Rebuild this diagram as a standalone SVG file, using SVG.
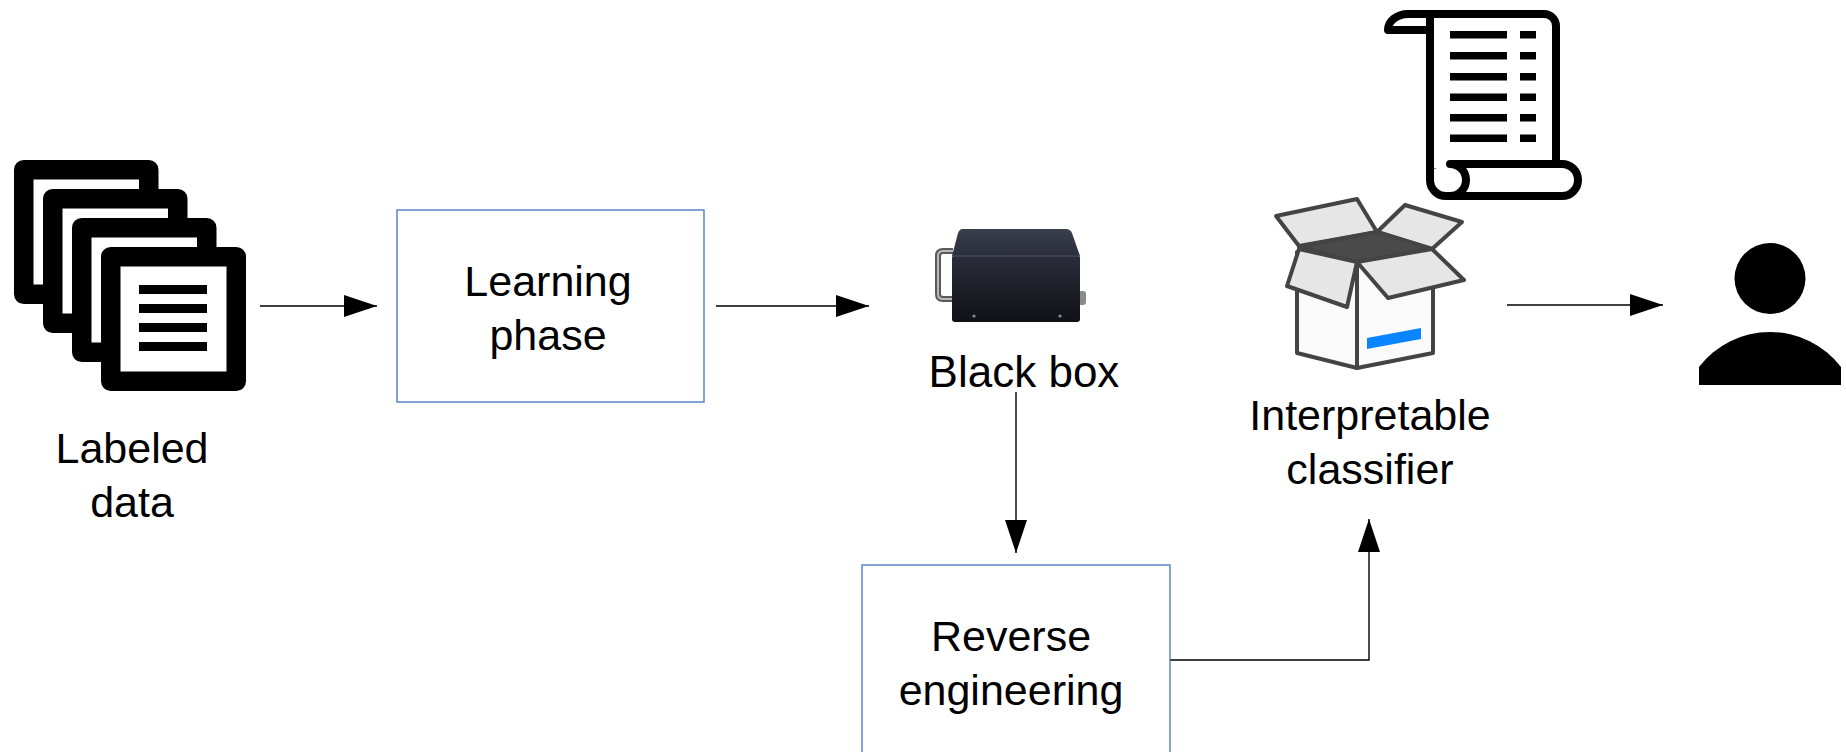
<svg xmlns="http://www.w3.org/2000/svg" width="1846" height="752" viewBox="0 0 1846 752">
  <style>
    .label { font-family: "Liberation Sans", Arial, sans-serif; font-size: 43px; fill: #000; text-anchor: middle; }
    .step { fill: #fff; stroke: #4472c4; stroke-width: 1.3; }
    .page { fill: #fff; stroke: #000; stroke-width: 19.5; stroke-linejoin: round; }
    .wire { fill: none; stroke: #000; stroke-width: 1.4; marker-end: url(#head); }
    .flap { fill: #e6e6e6; stroke: #444; stroke-width: 4; stroke-linejoin: round; }
    .face { fill: #fafafa; stroke: #444; stroke-width: 4; stroke-linejoin: round; }
    .scroll { fill: #fff; stroke: #000; stroke-width: 8; stroke-linejoin: round; }
  </style>
  <defs>
    <marker id="head" markerUnits="userSpaceOnUse" markerWidth="34" markerHeight="24" refX="33" refY="11" orient="auto">
      <path d="M0,0 L33,11 L0,22 Z" fill="#000"/>
    </marker>
    <linearGradient id="boxFront" x1="0" y1="0" x2="0" y2="1">
      <stop offset="0" stop-color="#2a2d3a"/>
      <stop offset="1" stop-color="#101116"/>
    </linearGradient>
    <linearGradient id="boxTop" x1="0" y1="0" x2="0" y2="1">
      <stop offset="0" stop-color="#3a3e4d"/>
      <stop offset="1" stop-color="#2b2e3a"/>
    </linearGradient>
  </defs>

  <rect width="1846" height="752" fill="#fff"/>

  <!-- connectors -->
  <g id="connectors">
    <path class="wire" d="M260,306 H377"/>
    <path class="wire" d="M716,306 H869"/>
    <path class="wire" d="M1016,392 V553"/>
    <path class="wire" d="M1170,660 H1369 V519"/>
    <path class="wire" d="M1507,305 H1663"/>
  </g>

  <!-- stacked documents -->
  <g id="labeled-data">
    <rect class="page" x="23.75" y="169.75" width="125" height="124.5"/>
    <rect class="page" x="52.75" y="198.75" width="125" height="124.5"/>
    <rect class="page" x="81.75" y="227.75" width="125" height="124.5"/>
    <rect class="page" x="110.75" y="256.75" width="125.5" height="124.5"/>
    <g fill="#000">
      <rect x="139" y="285" width="68" height="9"/>
      <rect x="139" y="304" width="68" height="9"/>
      <rect x="139" y="323" width="68" height="9"/>
      <rect x="139" y="342" width="68" height="9"/>
    </g>
    <text class="label" x="132" y="463">Labeled</text>
    <text class="label" x="132" y="517">data</text>
  </g>

  <g id="learning-phase">
    <rect class="step" x="397" y="210" width="307" height="192"/>
    <text class="label" x="548" y="296">Learning</text>
    <text class="label" x="548" y="350">phase</text>
  </g>

  <!-- black box device -->
  <g id="black-box">
    <path d="M953,251 H943 Q938,251 938,256 V294 Q938,299 943,299 H953" fill="none" stroke="#5a5a5a" stroke-width="6"/>
    <path d="M953,251 H943 Q938,251 938,256 V294 Q938,299 943,299 H953" fill="none" stroke="#b8b8b8" stroke-width="2"/>
    <rect x="1078" y="291" width="8" height="14" rx="3" fill="#8a8a8a"/>
    <path d="M962,229 H1066 Q1070,229 1072,233 L1080,256 H952 L958,233 Q960,229 962,229 Z" fill="url(#boxTop)"/>
    <rect x="952" y="255" width="128" height="67" rx="3" fill="url(#boxFront)"/>
    <line x1="953" y1="256" x2="1079" y2="256" stroke="#444857" stroke-width="1.5"/>
    <circle cx="974" cy="316" r="1.6" fill="#8a8a8a"/>
    <circle cx="1060" cy="316" r="1.6" fill="#8a8a8a"/>
    <text class="label" x="1024" y="387" style="font-size:44px">Black box</text>
  </g>

  <g id="reverse-engineering">
    <rect class="step" x="862" y="565" width="308" height="200"/>
    <text class="label" x="1011" y="651">Reverse</text>
    <text class="label" x="1011" y="705">engineering</text>
  </g>

  <!-- rule list scroll -->
  <g id="rules-scroll">
    <path class="scroll" d="M1430,30 H1388 A20,16 0 0 1 1408,14 H1430 Z"/>
    <path class="scroll" d="M1430,14 H1544 A12,12 0 0 1 1556,26 V172 H1430 Z"/>
    <path d="M1430,170 V180 A16,16 0 0 0 1446,196 H1562 A16,16 0 0 0 1562,164 H1450 Z" fill="#fff" stroke="none"/>
    <path class="scroll" fill="none" d="M1430,168 V180 A16,16 0 0 0 1446,196 H1562 A16,16 0 0 0 1562,164 H1450 A16,16 0 0 1 1450,196"/>
    <g fill="#000">
      <rect x="1450" y="31" width="57" height="7.5"/>
      <rect x="1520" y="31" width="16" height="7.5"/>
      <rect x="1450" y="52" width="57" height="7.5"/>
      <rect x="1520" y="52" width="16" height="7.5"/>
      <rect x="1450" y="73" width="57" height="7.5"/>
      <rect x="1520" y="73" width="16" height="7.5"/>
      <rect x="1450" y="93.5" width="57" height="7.5"/>
      <rect x="1520" y="93.5" width="16" height="7.5"/>
      <rect x="1450" y="114" width="57" height="7.5"/>
      <rect x="1520" y="114" width="16" height="7.5"/>
      <rect x="1450" y="134.5" width="57" height="7.5"/>
      <rect x="1520" y="134.5" width="16" height="7.5"/>
    </g>
  </g>

  <!-- open cardboard box -->
  <g id="interpretable-classifier">
    <polygon class="flap" points="1276,216 1357,199 1377,232 1299,246"/>
    <polygon class="flap" points="1377,232 1405,205 1462,222 1432,249"/>
    <polygon points="1299,247 1377,232 1432,249 1357,262" fill="#4a4a4a" stroke="#444" stroke-width="4" stroke-linejoin="round"/>
    <polygon class="face" points="1297,252 1357,262 1357,368 1297,353"/>
    <polygon class="face" points="1357,262 1433,249 1433,353 1357,368"/>
    <polygon class="flap" points="1299,249 1357,262 1347,307 1287,286"/>
    <polygon class="flap" points="1357,262 1432,249 1464,280 1388,298"/>
    <polygon points="1367,338 1421,328 1421,339 1367,349" fill="#0a84ff"/>
    <text class="label" x="1370" y="430">Interpretable</text>
    <text class="label" x="1370" y="484">classifier</text>
  </g>

  <!-- end user -->
  <g id="user" fill="#000">
    <circle cx="1770" cy="278.5" r="35.5"/>
    <path d="M1699,385 V367 A89.5,89.5 0 0 1 1841,367 V385 Z"/>
  </g>
</svg>
